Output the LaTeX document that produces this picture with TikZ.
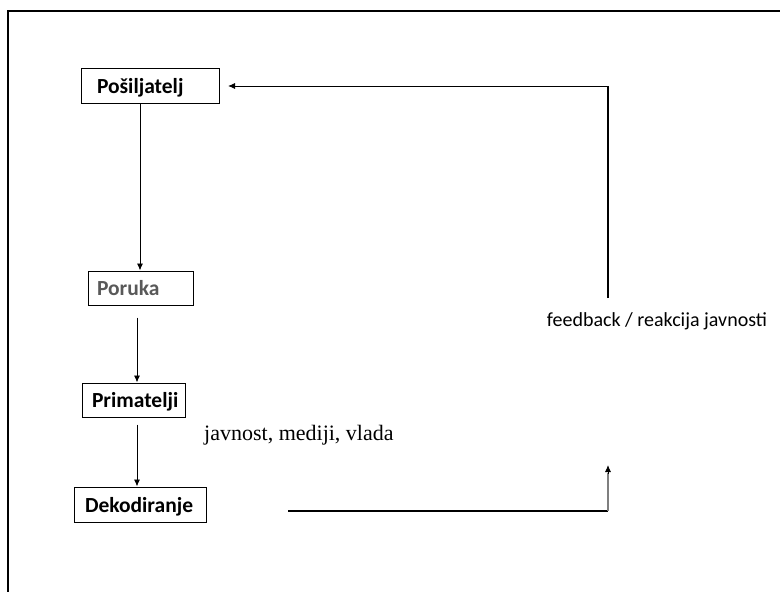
\documentclass[tikz,border=0pt]{standalone}
\usepackage{fontspec}
\setmainfont{Carlito}
\newfontfamily\timesf{Liberation Serif}
\usetikzlibrary{arrows.meta,calc}
\definecolor{txtgray}{HTML}{595959}
\definecolor{lngray}{HTML}{7F7F7F}
\newcommand{\lbox}[2]{\makebox[#1][l]{#2}}
\tikzset{
  stagebox/.style={draw=black, line width=1pt, font=\fontsize{21.5}{24}\selectfont\bfseries, inner ysep=0pt, text height=18pt, text depth=3pt, minimum height=35pt},
  flow/.style={line width=0.9pt, -{Latex[length=7pt,width=6pt]}},
  fbthick/.style={line width=2pt, black},
  plain/.style={font=\fontsize{20}{24}\selectfont, inner sep=0pt},
}
\begin{document}
\begin{tikzpicture}[x=1pt,y=-1pt]
\useasboundingbox (0,0) rectangle (780,592);
% frame
\draw[line width=2pt] (8,592) -- (8,11) -- (780,11);
% boxes
\node[stagebox, inner xsep=16pt] (posil) at (150,85.5) {\lbox{106pt}{Pošiljatelj}};
\node[stagebox, inner xsep=9pt, minimum height=34pt, text=txtgray] (poruka) at (140.5,288) {\lbox{87pt}{Poruka}};
\node[stagebox, inner xsep=10pt, minimum height=34pt] (prim) at (133.5,400) {\lbox{83pt}{Primatelji}};
\node[stagebox, inner xsep=11pt] (deko) at (140,504.5) {\lbox{110pt}{Dekodiranje}};
% labels
\node[font=\timesf\fontsize{22}{26}\selectfont, anchor=west, inner sep=0pt] (jav) at (204,435) {javnost, mediji, vlada};
\node[plain] (fb) at (657,321) {feedback / reakcija javnosti};
% down arrows
\draw[flow] ($(posil.south)+(-10,0)$) -- ($(poruka.north)+(-0.5,0)$);
\draw[flow] ($(poruka.south)+(-3.5,12)$) -- ($(prim.north)+(3.5,0)$);
\draw[flow] ($(prim.south)+(3.5,7)$) -- ($(deko.north)+(-3,0)$);
% feedback loop
\coordinate (d0) at (288,511);
\coordinate (c1) at (608,511);
\coordinate (c2) at (608,298);
\coordinate (c3) at (608,86);
\draw[fbthick] (d0) -- (c1);
\draw[line width=1.5pt, lngray] (c1) -- (608,473);
\draw[flow] (608,474) -- (608,465);
\draw[fbthick] (c2) -- (c3);
\draw[flow] (c3) -- (228,86);
\end{tikzpicture}
\end{document}
